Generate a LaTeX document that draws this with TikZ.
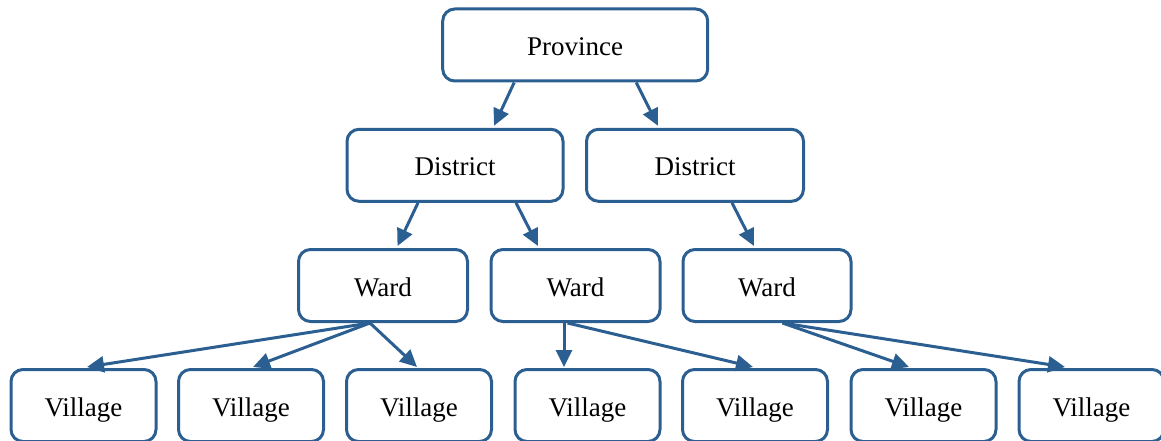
\documentclass[tikz,border=0pt]{standalone}
\usepackage{fontspec}
\setmainfont{Liberation Serif}
\usetikzlibrary{arrows.meta}
\definecolor{boxblue}{RGB}{44,95,145}
\begin{document}
\begin{tikzpicture}[x=1pt,y=-1pt,
  box/.style={draw=boxblue,line width=3pt,rounded corners=12pt,fill=white,
    minimum height=72pt,inner sep=0pt,text height=21pt,text depth=0pt,
    font=\fontsize{27}{31}\selectfont},
  conn/.style={draw=boxblue,line width=3pt,-{Triangle[length=17pt,width=16pt]}}]
\useasboundingbox (0,0) rectangle (1161,441);
\node[box,minimum width=265pt] (P) at (575.2,45) {Province};
\node[box,minimum width=216pt] (D1) at (455,165.3) {District};
\node[box,minimum width=217pt] (D2) at (695,165.3) {District};
\node[box,minimum width=169pt] (W1) at (383,285.5) {Ward};
\node[box,minimum width=169pt] (W2) at (575.5,285.5) {Ward};
\node[box,minimum width=168pt] (W3) at (767,285.5) {Ward};
\foreach \n/\x in {1/83.5,2/251,3/419,4/587.5,5/755,6/923.5,7/1091.5}
  \node[box,minimum width=145pt] (V\n) at (\x,405.5) {Village};
\draw[conn] ([xshift=-61pt]P.south) -- ([xshift=39pt,yshift=2pt]D1.north);
\draw[conn] ([xshift=61pt]P.south) -- ([xshift=-37pt,yshift=2pt]D2.north);
\draw[conn] ([xshift=-37pt]D1.south) -- ([xshift=14.5pt,yshift=2pt]W1.north);
\draw[conn] ([xshift=61pt]D1.south) -- ([xshift=-37.5pt,yshift=2pt]W2.north);
\draw[conn] ([xshift=37pt]D2.south) -- ([xshift=-13pt,yshift=2pt]W3.north);
\draw[conn] ([xshift=-13pt]W1.south) -- ([xshift=3.5pt,yshift=1pt]V1.north);
\draw[conn] ([xshift=-13pt]W1.south) -- ([xshift=2pt,yshift=1pt]V2.north);
\draw[conn] ([xshift=-13pt]W1.south) -- ([xshift=-2pt,yshift=1pt]V3.north);
\draw[conn] ([xshift=-11.5pt]W2.south) -- ([xshift=-23.5pt,yshift=1pt]V4.north);
\draw[conn] ([xshift=-8pt]W2.south) -- ([xshift=-2pt,yshift=1pt]V5.north);
\draw[conn] ([xshift=15.5pt]W3.south) -- ([xshift=-14.5pt,yshift=1pt]V6.north);
\draw[conn] ([xshift=15.5pt]W3.south) -- ([xshift=-26.5pt,yshift=1pt]V7.north);
\end{tikzpicture}
\end{document}
